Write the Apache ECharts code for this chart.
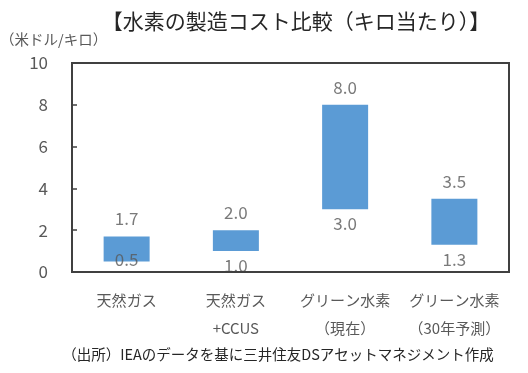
<!DOCTYPE html>
<html><head><meta charset="utf-8">
<script src="https://cdn.jsdelivr.net/npm/echarts@6/dist/echarts.min.js"></script>
<style>html,body{margin:0;padding:0;background:#fff}#c{width:528px;height:373px}</style>
</head><body><div id="c"></div>
<script>
const categories = ['天然ガス', '天然ガス\n+CCUS', 'グリーン水素\n（現在）', 'グリーン水素\n（30年予測）'];
const lowValues = [0.5, 1.0, 3.0, 1.3];
const highValues = [1.7, 2.0, 8.0, 3.5];
const yTicks = [0, 2, 4, 6, 8, 10];
const titleText = '【水素の製造コスト比較（キロ当たり）】';
const unitText = '（米ドル/キロ）';
const sourceText = '（出所）IEAのデータを基に三井住友DSアセットマネジメント作成';

const FONT = '"Noto Sans CJK JP", "Noto Sans", sans-serif';
const TXT = '#595959';
const LINE = {color: '#404040', width: 2};
const chart = echarts.init(document.getElementById('c'), null, {renderer: 'canvas'});
chart.setOption({
  animation: false,
  backgroundColor: '#fff',
  title: {
    text: titleText, left: 291, top: 6, textAlign: 'center',
    textStyle: {fontFamily: FONT, fontSize: 21, fontWeight: 'normal', color: '#262626'}
  },
  graphic: [
    {type: 'text', x: 0, y: 39, style: {text: unitText, font: '14.5px ' + FONT, fill: TXT, textVerticalAlign: 'middle'}},
    {type: 'text', x: 278, y: 354, style: {text: sourceText, font: '14.5px ' + FONT, fill: '#262626', textAlign: 'center', textVerticalAlign: 'middle'}}
  ],
  grid: {left: 72, right: 19, top: 63, bottom: 101, show: false},
  xAxis: {
    type: 'category', data: categories, boundaryGap: true,
    axisLine: {onZero: false, lineStyle: LINE},
    axisTick: {inside: true, length: 5, lineStyle: {color: '#404040', width: 1.5}},
    axisLabel: {color: TXT, fontFamily: FONT, fontSize: 15, lineHeight: 28, margin: 14, interval: 0}
  },
  yAxis: {
    type: 'value', min: yTicks[0], max: yTicks[yTicks.length - 1], interval: 2,
    axisLine: {show: true, onZero: false, lineStyle: LINE},
    axisTick: {show: true, inside: true, length: 5, lineStyle: {color: '#404040', width: 1.5}},
    splitLine: {show: false},
    axisLabel: {color: TXT, fontFamily: FONT, fontSize: 17, margin: 24}
  },
  series: [
    {type: 'bar', stack: 'r', data: lowValues, barWidth: 46, itemStyle: {color: 'transparent'}, silent: true},
    {type: 'bar', stack: 'r', data: highValues.map((h, i) => +(h - lowValues[i]).toFixed(2)), barWidth: 46, itemStyle: {color: '#5B9BD5'}},
    {type: 'scatter', data: highValues, symbolSize: 0, z: 5,
      label: {show: true, position: 'top', distance: 9, color: TXT, fontFamily: FONT, fontSize: 17, formatter: p => p.value.toFixed(1)}},
    {type: 'scatter', symbolSize: 0, z: 5,
      data: lowValues.map((v, i) => i === 0 ? {value: v, label: {offset: [0, -17]}} : v),
      label: {show: true, position: 'bottom', distance: 6, color: TXT, fontFamily: FONT, fontSize: 17, formatter: p => p.value.toFixed(1)}}
  ]
});
// plot frame derived from the grid's computed rectangle
const rect = chart.getModel().getComponent('grid').coordinateSystem.getRect();
chart.setOption({graphic: [
  {type: 'text', x: 0, y: 39, style: {text: unitText, font: '14.5px ' + FONT, fill: TXT, textVerticalAlign: 'middle'}},
  {type: 'text', x: 278, y: 354, style: {text: sourceText, font: '14.5px ' + FONT, fill: '#262626', textAlign: 'center', textVerticalAlign: 'middle'}},
  {type: 'rect', shape: {x: rect.x, y: rect.y, width: rect.width, height: rect.height}, style: {fill: 'none', stroke: '#404040', lineWidth: 2}, z: 10, silent: true}
]});
</script></body></html>
